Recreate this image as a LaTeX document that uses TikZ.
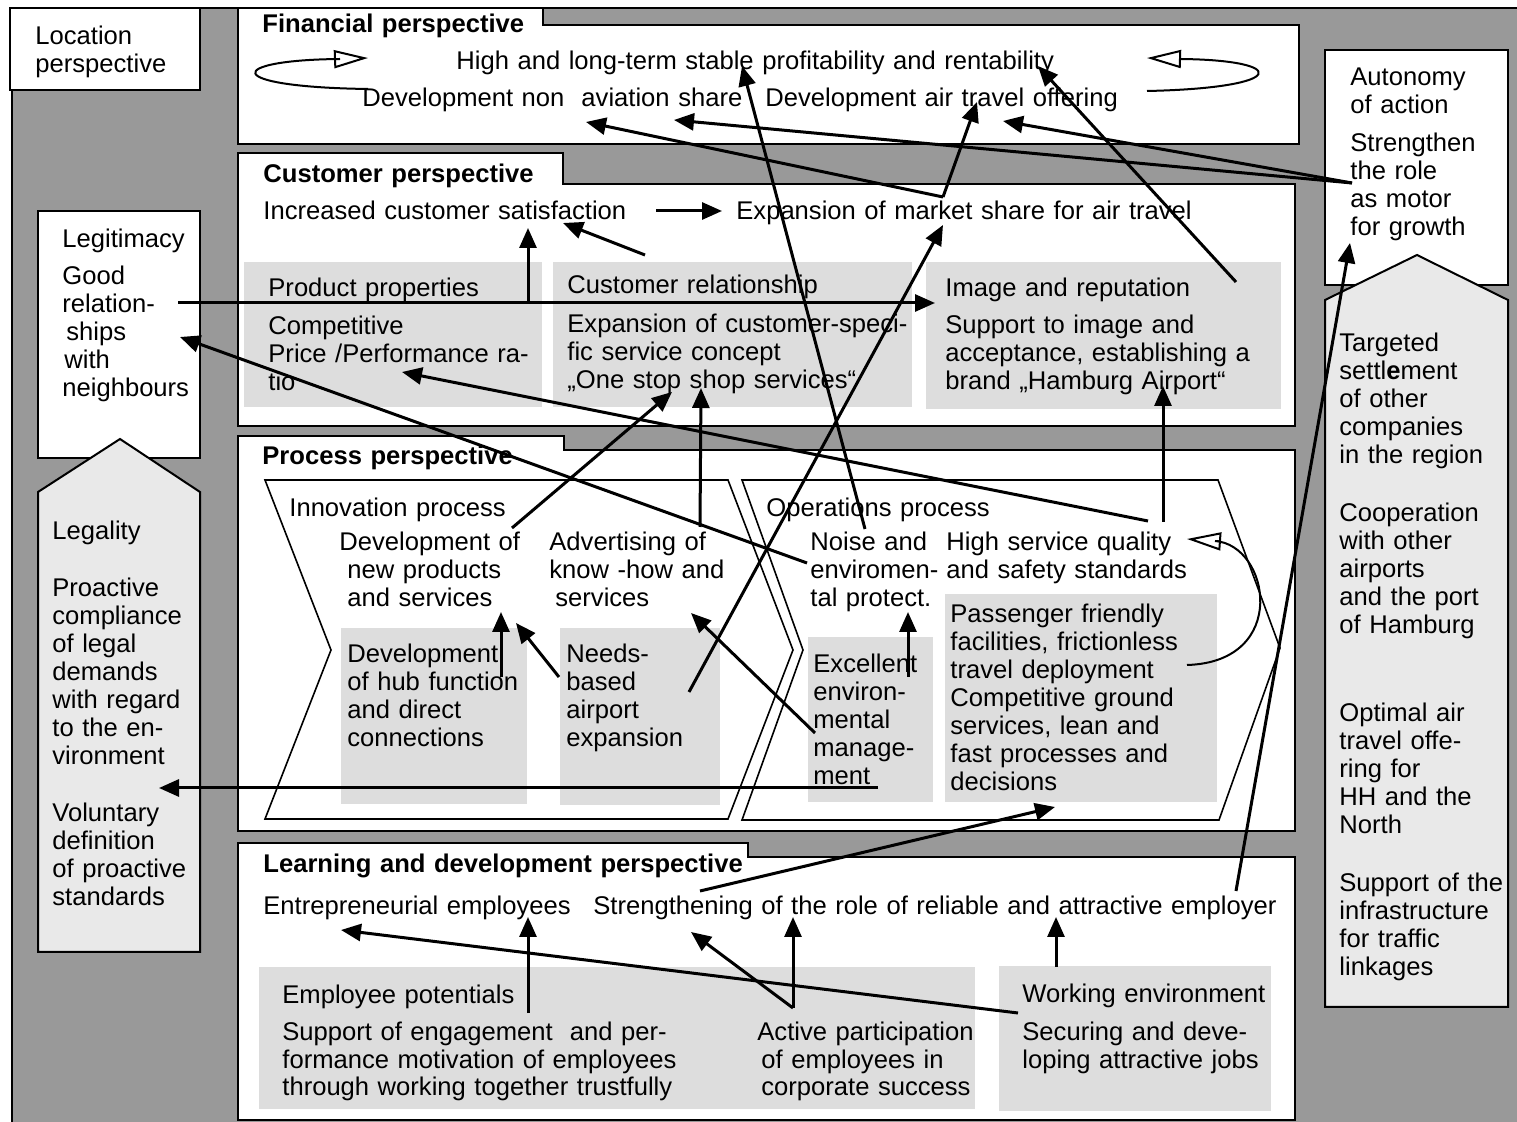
\documentclass[tikz,border=0pt]{standalone}
\usepackage{fontspec}
\setmainfont{Liberation Sans}
\usetikzlibrary{arrows.meta}
\definecolor{bggray}{RGB}{153,153,153}
\definecolor{boxgray}{RGB}{221,221,221}
\definecolor{pillargray}{RGB}{233,233,233}

\begin{document}
\begin{tikzpicture}[x=0.5pt, y=-0.5pt,
  txt/.style={anchor=base west, inner sep=0pt, align=left, text width=420pt,
    font=\fontsize{12.8pt}{14pt}\selectfont},
  head/.style={txt, font=\fontsize{12.8pt}{14pt}\selectfont\bfseries},
  frame/.style={draw, fill=white, line width=1pt},
  pillar/.style={draw, fill=pillargray, line width=1pt},
  field/.style={fill=boxgray},
  chevron/.style={draw, line width=0.8pt},
  link/.style={line width=1.5pt, -{Triangle[length=10pt, width=8.5pt]}},
  roundtrip/.style={line width=1pt, -{Triangle[open, length=17pt, width=9pt]}}]
\useasboundingbox (0,0) rectangle (1517,1122);

% background and frames
\draw[fill=bggray, line width=1pt] (12,8) rectangle (1540,1140);
\draw[frame] (10,8) rectangle (200,90);
\draw[frame] (238,8) -- (543,8) -- (543,25) -- (1299,25) -- (1299,144) -- (238,144) -- cycle;
\draw[frame] (238,153) -- (563,153) -- (563,184) -- (1295,184) -- (1295,426) -- (238,426) -- cycle;
\draw[frame] (238,436) -- (564,436) -- (564,450) -- (1295,450) -- (1295,831) -- (238,831) -- cycle;
\draw[frame] (238,843) -- (748,843) -- (748,857) -- (1295,857) -- (1295,1120) -- (238,1120) -- cycle;

% side columns
\draw[frame] (38,211) rectangle (200,458);
\draw[pillar] (38,952) -- (38,492) -- (120,439) -- (200,492) -- (200,952) -- cycle;
\draw[frame] (1325,50) rectangle (1508,285);
\draw[pillar] (1325,1007) -- (1325,300) -- (1417,255) -- (1508,300) -- (1508,1007) -- cycle;

% inner fields
\fill[field] (244,262) rectangle (542,407);
\fill[field] (553,262) rectangle (912,407);
\fill[field] (926,262) rectangle (1281,409);
\draw[chevron] (265,480) -- (728,480) -- (793,650) -- (728,819) -- (265,819) -- (331,650) -- cycle;
\draw[chevron] (742,480) -- (1218,480) -- (1280,648) -- (1219,820) -- (742,820) -- (803,650) -- cycle;
\fill[field] (341,628) rectangle (527,804);
\fill[field] (560,628) rectangle (720,805);
\fill[field] (808,637) rectangle (933,802);
\fill[field] (945,594) rectangle (1217,802);
\fill[field] (259,967) rectangle (975,1109);
\fill[field] (999,966) rectangle (1271,1111);

% texts
\node[txt] (loc) at (35,45) {Location\\perspective};

\node[head] (fin) at (262,33) {Financial perspective};
\node[txt] (profit) at (456,70) {High and long-term stable profitability and rentability};
\node[txt] (nonav) at (362,107) {Development non~~aviation share};
\node[txt] (airoffer) at (765,107) {Development air travel offering};

\node[head] (cus) at (263,183) {Customer perspective};
\node[txt] (satis) at (263,220) {Increased customer satisfaction};
\node[txt] (share) at (736,220) {Expansion of market share for air travel};
\node[txt] (prod) at (268,297) {Product properties};
\node[txt] (price) at (268,335) {Competitive\\Price /Performance ra-\\tio};
\node[txt] (rel) at (567,294) {Customer relationship};
\node[txt] (spec) at (567,333) {Expansion of customer-speci-\\fic service concept\\„One stop shop services“};
\node[txt] (image) at (945,297) {Image and reputation};
\node[txt] (brand) at (945,334) {Support to image and\\acceptance, establishing a\\brand „Hamburg Airport“};

\node[head] (proc) at (262,465) {Process perspective};
\node[txt] (inno) at (289,517) {Innovation process};
\node[txt] (devnew) at (339,551) {Development of\\\hspace*{4pt}new products\\\hspace*{4pt}and services};
\node[txt] (advert) at (549,551) {Advertising of\\know -how and\\\hspace*{3pt}services};
\node[txt] (hub) at (347,663) {Development\\of hub function\\and direct\\connections};
\node[txt] (needs) at (566,663) {Needs-\\based\\airport\\expansion};
\node[txt] (ops) at (766,517) {Operations process};
\node[txt] (noise) at (810,551) {Noise and\\enviromen-\\tal protect.};
\node[txt] (quality) at (946,551) {High service quality\\and safety standards};
\node[txt] (envman) at (813,673) {Excellent\\environ-\\mental\\manage-\\ment};
\node[txt] (pass) at (950,623) {Passenger friendly\\facilities, frictionless\\travel deployment\\Competitive ground\\services, lean and\\fast processes and\\decisions};

\node[head] (learn) at (263,873) {Learning and development perspective};
\node[txt] (entre) at (263,915) {Entrepreneurial employees};
\node[txt] (employer) at (593,915) {Strengthening of the role of reliable and attractive employer};
\node[txt] (potent) at (282,1003) {Employee potentials};
\node[txt] (engage) at (282,1040) {Support of engagement~~and per-\\formance motivation of employees\\through working together trustfully};
\node[txt] (partic) at (757,1040) {Active participation\\\hspace*{2pt}of employees in\\\hspace*{2pt}corporate success};
\node[txt] (workenv) at (1022,1002) {Working environment};
\node[txt] (jobs) at (1022,1040) {Securing and deve-\\loping attractive jobs};

\node[txt] (legit) at (62,248) {Legitimacy};
\node[txt] (neigh) at (62,285) {Good\\relation-\\\hspace*{2pt}ships\\\hspace*{1pt}with\\neighbours};
\node[txt] (legal) at (52,540) {Legality};
\node[txt] (comply) at (52,597) {Proactive\\compliance\\of legal\\demands\\with regard\\to the en-\\vironment};
\node[txt] (volun) at (52,822) {Voluntary\\definition\\of proactive\\standards};

\node[txt] (auto) at (1350,86) {Autonomy\\of action};
\node[txt] (motor) at (1350,152) {Strengthen\\the role\\as motor\\for growth};
\node[txt] (settle) at (1339,352) {Targeted\\settl\textbf{e}ment\\of other\\companies\\in the region};
\node[txt] (coop) at (1339,522) {Cooperation\\with other\\airports\\and the port\\of Hamburg};
\node[txt] (optim) at (1339,722) {Optimal air\\travel offe-\\ring for\\HH and the\\North};
\node[txt] (infra) at (1339,892) {Support of the\\infrastructure\\for traffic\\linkages};

% connector ends
\coordinate (stable-in) at (742,66);
\coordinate (rent-in) at (1038,66);
\coordinate (nonav-in) at (586,122);
\coordinate (nonav-in2) at (674,120);
\coordinate (air-in) at (977,102);
\coordinate (air-in2) at (1003,121);
\coordinate (share-out) at (943,197);
\coordinate (motor-out) at (1352,183);
\coordinate (motor-in) at (1350,243);
\coordinate (satis-out) at (656,211);
\coordinate (share-in) at (722,211);
\coordinate (share-in2) at (943,225);
\coordinate (rel-out) at (645,255);
\coordinate (satis-in) at (563,223);
\coordinate (satis-in2) at (528,228);
\coordinate (fork) at (528,303);
\coordinate (neigh-out) at (178,303);
\coordinate (image-in) at (935,303);
\coordinate (image-out) at (1236,282);
\coordinate (spec-in) at (672,392);
\coordinate (spec-in2) at (701,388);
\coordinate (price-in) at (402,372);
\coordinate (brand-in) at (1163,386);
\coordinate (neigh-in) at (180,337);
\coordinate (comply-in) at (159,788);
\coordinate (devnew-out) at (512,528);
\coordinate (advert-out) at (700,527);
\coordinate (noise-out) at (865,529);
\coordinate (noise-out2) at (807,563);
\coordinate (quality-out) at (1148,521);
\coordinate (quality-out2) at (1163,522);
\coordinate (needs-out) at (689,692);
\coordinate (needs-out2) at (559,677);
\coordinate (hub-out) at (501,677);
\coordinate (devnew-in) at (501,612);
\coordinate (devnew-in2) at (516,623);
\coordinate (envman-out) at (815,733);
\coordinate (envman-out2) at (878,788);
\coordinate (envman-out3) at (908,677);
\coordinate (advert-in) at (691,613);
\coordinate (noise-in) at (908,612);
\coordinate (pass-in) at (1055,807);
\coordinate (employer-out) at (700,891);
\coordinate (employer-out2) at (1236,891);
\coordinate (potent-out) at (528,1013);
\coordinate (entre-in) at (528,917);
\coordinate (workenv-out) at (1018,1013);
\coordinate (entre-in2) at (341,930);
\coordinate (partic-out) at (793,1008);
\coordinate (employer-in) at (691,932);
\coordinate (employer-in2) at (793,917);
\coordinate (workenv-out2) at (1056,967);
\coordinate (employer-in3) at (1056,917);

% connectors
\draw[link] (share-out) -- (nonav-in);
\draw[link] (share-out) -- (air-in);
\draw[link] (motor-out) -- (nonav-in2);
\draw[link] (motor-out) -- (air-in2);
\draw[link] (noise-out) -- (stable-in);
\draw[link] (image-out) -- (rent-in);
\draw[link] (satis-out) -- (share-in);
\draw[link] (rel-out) -- (satis-in);
\draw[link] (neigh-out) -- (image-in);
\draw[link] (fork) -- (satis-in2);
\draw[link] (needs-out) -- (share-in2);
\draw[link] (devnew-out) -- (spec-in);
\draw[link] (advert-out) -- (spec-in2);
\draw[link] (quality-out) -- (price-in);
\draw[link] (quality-out2) -- (brand-in);
\draw[link] (noise-out2) -- (neigh-in);
\draw[link] (envman-out2) -- (comply-in);
\draw[link] (envman-out3) -- (noise-in);
\draw[link] (hub-out) -- (devnew-in);
\draw[link] (needs-out2) -- (devnew-in2);
\draw[link] (envman-out) -- (advert-in);
\draw[link] (employer-out) -- (pass-in);
\draw[link] (employer-out2) -- (motor-in);
\draw[link] (potent-out) -- (entre-in);
\draw[link] (workenv-out) -- (entre-in2);
\draw[link] (partic-out) -- (employer-in);
\draw[link] (partic-out) -- (employer-in2);
\draw[link] (workenv-out2) -- (employer-in3);

% feedback loops
\draw[roundtrip] (368,89) .. controls (220,87) and (225,60) .. (340,59) -- (368,58);
\draw[roundtrip] (1147,91) .. controls (1290,88) and (1290,60) .. (1180,59) -- (1147,58);
\draw[roundtrip] (1187,665) .. controls (1290,662) and (1270,545) .. (1215,541) -- (1187,539);
\end{tikzpicture}
\end{document}
